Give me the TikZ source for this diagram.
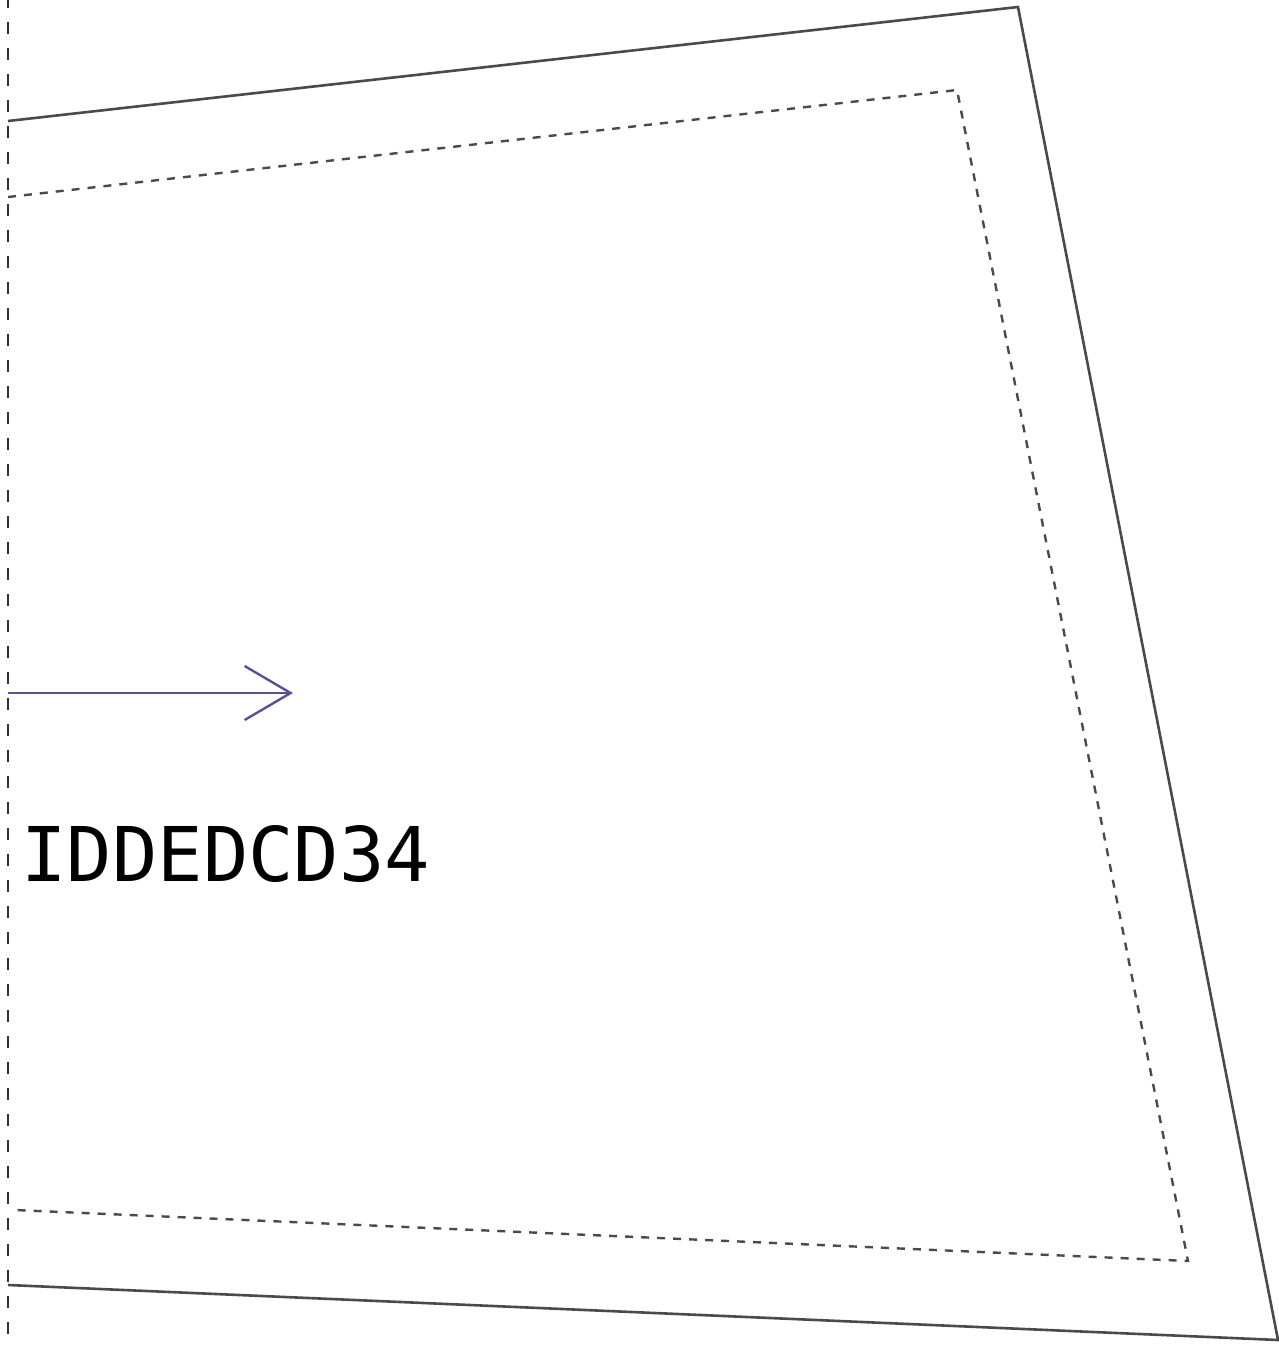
\documentclass[tikz,border=0pt]{standalone}
\usepackage{fontspec}
\newfontfamily\monofam{DejaVu Sans Mono}
\usetikzlibrary{arrows.meta}
\definecolor{edgegray}{HTML}{4A4A4A}
\definecolor{arrowpurple}{HTML}{5B4F96}
\tikzset{
  outerline/.style={draw=edgegray, line width=2.6pt, line join=miter},
  innerline/.style={draw=edgegray, line width=2.4pt, dash pattern=on 8pt off 8pt},
  guideline/.style={draw=black!80, line width=1.5pt, dash pattern=on 12pt off 14pt},
  flowarrow/.style={draw=arrowpurple, line width=2.4pt, -{Straight Barb[length=46pt, width=54pt, line width=2.4pt]}},
  labeltext/.style={font=\monofam\fontsize{75.5pt}{80pt}\selectfont, text=black, inner sep=0pt, anchor=base west}
}
\begin{document}
\begin{tikzpicture}[x=1pt, y=-1pt]
\useasboundingbox (0,0) rectangle (1279,1347);
% outer frame
\draw[outerline] (8,121) -- (1018,7) -- (1278,1340) -- (8,1285);
% inner dashed frame
\draw[innerline] (8,197) -- (957,90) -- (1188,1261) -- (15,1210);
% vertical guide
\draw[guideline] (8,-4) -- (8,1347);
% arrow
\coordinate (arrowstart) at (8,693);
\coordinate (arrowend) at (293,693);
\draw[flowarrow] (arrowstart) -- (arrowend);
% label
\node[labeltext] (idlabel) at (21,881) {IDDEDCD34};
\end{tikzpicture}
\end{document}
